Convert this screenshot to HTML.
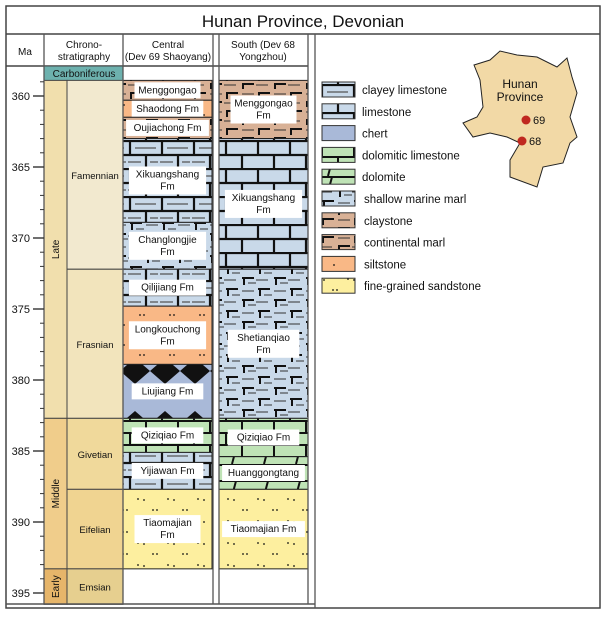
<!DOCTYPE html>
<html><head><meta charset="utf-8"><style>
body{margin:0;background:#fff;font-family:"Liberation Sans",sans-serif}
svg text{font-family:"Liberation Sans",sans-serif}
</style></head><body>
<svg id="c" width="606" height="614" viewBox="0 0 606 614" xmlns="http://www.w3.org/2000/svg">
<defs>
<pattern id="p-lime" width="32" height="28" patternUnits="userSpaceOnUse"><rect width="32" height="28" fill="#c9d9e9"/><path d="M0 1H32M0 15H32M2 1V15M18 15V28" stroke="#111" stroke-width="2.2"/></pattern>
<pattern id="p-clay" width="32" height="28" patternUnits="userSpaceOnUse"><rect width="32" height="28" fill="#c9d9e9"/><path d="M0 1H32M0 15H32M2 1V15M18 15V28" stroke="#111" stroke-width="2.2"/><path d="M7 8H28M22 22H30M0 22H13" stroke="#555" stroke-width="1.3"/></pattern>
<pattern id="p-marl" width="32" height="22" patternUnits="userSpaceOnUse"><rect width="32" height="22" fill="#c9d9e9"/><path d="M2 3H14M4 3V10M18 14H30M20 14V21" stroke="#111" stroke-width="2"/><path d="M18 5H30M0 16H12M8 9H16M24 19H32" stroke="#333" stroke-width="1"/></pattern>
<pattern id="p-cmarl" width="32" height="18" patternUnits="userSpaceOnUse"><rect width="32" height="18" fill="#d8b196"/><path d="M2 3H14M3 3V9M18 12H30M19 12V17" stroke="#111" stroke-width="2"/><path d="M18 4H30M0 13H12" stroke="#333" stroke-width="1"/></pattern>
<pattern id="p-silt" width="30" height="20" patternUnits="userSpaceOnUse"><rect width="30" height="20" fill="#f9b886"/><circle cx="4" cy="5" r="0.9" fill="#111"/><circle cx="20" cy="15" r="0.9" fill="#111"/><circle cx="24" cy="15" r="0.9" fill="#111"/></pattern>
<pattern id="p-sand" width="30" height="22" patternUnits="userSpaceOnUse"><rect width="30" height="22" fill="#fdef9f"/><circle cx="3" cy="4" r="0.9" fill="#111"/><circle cx="7" cy="4" r="0.9" fill="#111"/><circle cx="18" cy="15" r="0.9" fill="#111"/><circle cx="24" cy="16" r="0.9" fill="#111"/></pattern>
<pattern id="p-dlime" width="32" height="24" patternUnits="userSpaceOnUse"><rect width="32" height="24" fill="#bfe3b6"/><path d="M0 1H32M0 13H32M2 1V13M18 13V24" stroke="#111" stroke-width="2"/></pattern>
<pattern id="p-dolo" width="32" height="16" patternUnits="userSpaceOnUse"><rect width="32" height="16" fill="#bfe3b6"/><path d="M0 1H32M12 1L8 16" stroke="#111" stroke-width="2"/></pattern>
<pattern id="p-chert" width="30" height="53" patternUnits="userSpaceOnUse"><rect width="30" height="53" fill="#a9b9d8"/><path d="M0 0L15 13L30 0Z" fill="#111"/><path d="M0 53L15 40L30 53Z" fill="#111"/></pattern>
</defs>
</svg>
<script>
// Chart data
const stageNames=["Famennian","Frasnian","Givetian","Eifelian","Emsian"];
const stageTops=[358.9,372.2,382.7,387.7,393.3];
const stageBases=[372.2,382.7,387.7,393.3,395.8];
const stageColors=["#f2e9cf","#f2e4bc","#f0d99b","#f0d491","#e6cf8f"];
const epochNames=["Late","Middle","Early"];
const epochTops=[358.9,382.7,393.3];
const epochBases=[382.7,393.3,395.8];
const epochColors=["#f1dfad","#f0cd8b","#e6b56a"];
const centralNames=["Menggongao","Shaodong Fm","Oujiachong Fm","Xikuangshang|Fm","Changlongjie|Fm","Qilijiang Fm","Longkouchong|Fm","Liujiang Fm","Qiziqiao Fm","Yijiawan Fm","Tiaomajian|Fm"];
const centralTops=[358.9,360.3,361.5,363.0,368.9,372.2,374.8,378.9,382.7,385.1,387.7];
const centralBases=[360.3,361.5,363.0,368.9,372.2,374.8,378.9,382.7,385.1,387.7,393.3];
const centralLith=["cmarl","silt","cmarl","clay","marl","clay","silt","chert","dlime","clay","sand"];
const southNames=["Menggongao|Fm","Xikuangshang|Fm","Shetianqiao|Fm","Qiziqiao Fm","Huanggongtang","Tiaomajian Fm"];
const southTops=[358.9,363.0,372.2,382.7,385.4,387.7];
const southBases=[363.0,372.2,382.7,385.4,387.7,393.3];
const southLith=["cmarl","lime","marl","dlime","dolo","sand"];
const majorTicks=[360,365,370,375,380,385,390,395];
const legendLabels=["clayey limestone","limestone","chert","dolomitic limestone","dolomite","shallow marine  marl","claystone","continental marl","siltstone","fine-grained sandstone"];
const legendLith=["clay","lime","chert","dlime","dolo","marl","cmarl","cmarl","silt","sand"];

const svg=document.getElementById('c');
const NS="http://www.w3.org/2000/svg";
const y=ma=>96+(ma-360)*14.2;
function el(tag,attrs,parent){const e=document.createElementNS(NS,tag);for(const k in attrs)e.setAttribute(k,attrs[k]);(parent||svg).appendChild(e);return e;}
function txt(s,x,yy,size,anchor,parent){const t=el('text',{x:x,y:yy,'font-size':size,'text-anchor':anchor||'middle',fill:'#111'},parent);t.textContent=s;return t;}
const L='#444';
// title & frame
let r=el('rect',{x:6,y:6,width:594,height:602,fill:'#fff',stroke:L,'stroke-width':1.5});


let t=txt('Hunan Province, Devonian',303,27,17);


el('line',{x1:6,y1:34,x2:600,y2:34,stroke:L,'stroke-width':1.5});
el('line',{x1:6,y1:66,x2:308,y2:66,stroke:L,'stroke-width':1.5});
// headers
const hdr=[["Ma",25,[["Ma",55]]],["chrono-header",84,[["Chrono-",48],["stratigraphy",60]]],["central-header",168,[["Central",48],["(Dev 69 Shaoyang)",60]]],["south-header",263,[["South (Dev 68",48],["Yongzhou)",60]]]];
hdr.forEach(h=>{const g=el('g',{});h[2].forEach(l=>txt(l[0],h[1],l[1]-h[2].length*0+(h[2].length==1?0:0),10,'middle',g));});
// carboniferous
r=el('rect',{x:44,y:66,width:79,height:15,fill:'#6db1ae',stroke:L});


txt('Carboniferous',84,77,10);
// epochs
epochNames.forEach((n,i)=>{const y0=y(epochTops[i]),y1=y(epochBases[i]);
 const g=el('g',{});
 el('rect',{x:44,y:y0,width:23,height:y1-y0,fill:epochColors[i],stroke:L},g);
 const tt=txt(n,0,0,10,'middle',g);tt.setAttribute('transform',`translate(59,${(y0+y1)/2}) rotate(-90)`);});
stageNames.forEach((n,i)=>{const y0=y(stageTops[i]),y1=y(stageBases[i]);
 const g=el('g',{});
 el('rect',{x:67,y:y0,width:56,height:y1-y0,fill:stageColors[i],stroke:L},g);
 txt(n,95,(y0+y1)/2+4,9.5,'middle',g);});
// columns
function column(names,tops,bases,lith,x0,w,nm){
 names.forEach((n,i)=>{const y0=y(tops[i]),y1=y(bases[i]);
  const g=el('g',{});
  el('rect',{x:x0,y:y0,width:w,height:y1-y0,fill:`url(#p-${lith[i]})`,stroke:'#222','stroke-width':1},g);
  const lines=n.split('|');const bh=lines.length*12+4;const tw=Math.max(...lines.map(s=>s.length))*5.6+10;
  const cy=(y0+y1)/2;
  el('rect',{x:x0+w/2-tw/2,y:cy-bh/2,width:tw,height:bh,fill:'#fff'},g);
  lines.forEach((s,k)=>txt(s,x0+w/2,cy-bh/2+12+k*12-1,10,'middle',g));});
}
column(centralNames,centralTops,centralBases,centralLith,123,89,'central');
column(southNames,southTops,southBases,southLith,219,89,'south');
// column separators
[[44,34,604],[123,34,604],[213,34,604],[219,34,604],[308,34,604],[315,34,608]].forEach(a=>el('line',{x1:a[0],y1:a[1],x2:a[0],y2:a[2],stroke:'#555','stroke-width':1.3}));
el('line',{x1:6,y1:604,x2:315,y2:604,stroke:'#555','stroke-width':1.5});
// axis ticks
const ax=el('g',{});
for(let m=359;m<=395;m++){const yy=y(m);const maj=majorTicks.includes(m);
 el('line',{x1:maj?33:40,y1:yy,x2:44,y2:yy,stroke:'#333','stroke-width':maj?1.4:1},ax);}
majorTicks.forEach(m=>txt(String(m),30,y(m)+4,11,'end',ax));
// legend
legendLabels.forEach((lab,i)=>{const yy=82+i*21.8;const g=el('g',{});
 
 
 el('rect',{x:322,y:yy,width:33,height:15,fill:`url(#p-${legendLith[i]})`,stroke:'#333'},g);
 txt(lab,362+(i>=5?2:0),yy+12,11.5,'start',g);});
// map
const mg=el('g',{});
el('path',{d:'M474 65L490 60L500 51L517 55L537 57L557 67L567 58L572 77L577 93L570 117L577 137L570 143L563 163L543 167L537 187L510 177L510 160L520 143L507 137L490 133L473 137L463 123L477 117L483 107L480 80Z',fill:'#f2d9a6',stroke:'#222','stroke-width':1},mg);
txt('Hunan',520,88,12,'middle',mg);txt('Province',520,101,12,'middle',mg);
el('circle',{cx:526,cy:120,r:4.5,fill:'#c0281f'},mg);txt('69',533,124,11,'start',mg);
el('circle',{cx:522,cy:141,r:4.5,fill:'#c0281f'},mg);txt('68',529,145,11,'start',mg);
</script>
</body></html>
